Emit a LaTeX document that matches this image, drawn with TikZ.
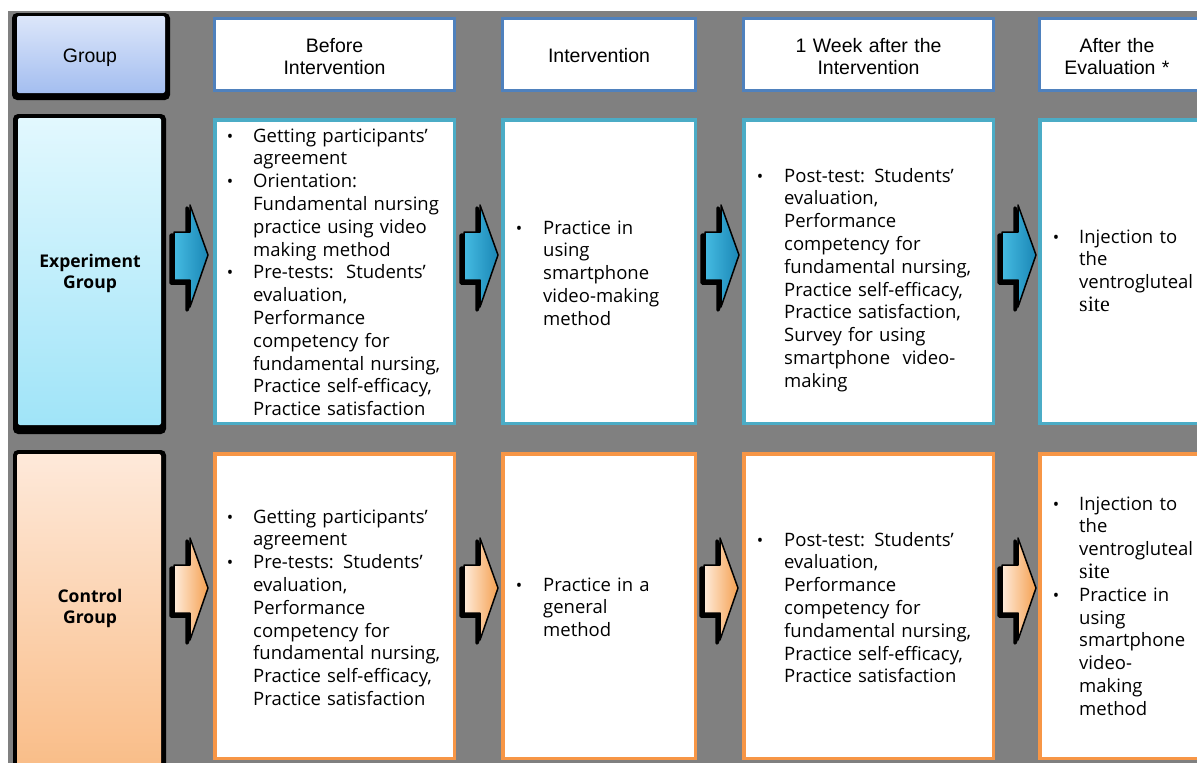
\documentclass[tikz,border=0pt]{standalone}
\usepackage{fontspec}
\setmainfont{Open Sans}
\newfontfamily\hdfont{Liberation Sans}
\newfontfamily\serfont{Liberation Serif}
\definecolor{bggray}{HTML}{808080}
\definecolor{hblue}{HTML}{4F81BD}
\definecolor{eteal}{HTML}{4BACC6}
\definecolor{corange}{HTML}{F79646}
\definecolor{gtop}{HTML}{DCE6FA}
\definecolor{gbot}{HTML}{A4BEF0}
\definecolor{etop}{HTML}{E2F8FE}
\definecolor{ebot}{HTML}{A0E4F8}
\definecolor{ctop}{HTML}{FEE9DA}
\definecolor{cbot}{HTML}{F9BC86}
\definecolor{aBl}{HTML}{45BBE2}
\definecolor{aBr}{HTML}{1A86B5}
\definecolor{aOl}{HTML}{FEEBDA}
\definecolor{aOr}{HTML}{F5A050}
\newcommand\blockarrow[4]{%
  \begin{scope}[shift={(#1,#2)}]
    \fill[black, draw=black, line width=3.5pt, line join=round, shift={(-3,3)}]
      (-34,-23) -- (-18,-23) -- (-18,-50) -- (0,0) -- (-18,52) -- (-18,25) -- (-34,25) -- cycle;
    \shade[left color=#3, right color=#4, draw=black, line width=1.5pt, line join=round]
      (-34,-23) -- (-18,-23) -- (-18,-50) -- (0,0) -- (-18,52) -- (-18,25) -- (-34,25) -- cycle;
  \end{scope}}
\newcommand\sitetext{{\serfont\fontsize{22}{22.8}\selectfont site}}
\begin{document}
\begin{tikzpicture}[x=1pt,y=-1pt,
  hbox/.style={draw=hblue, line width=3pt, fill=white, inner sep=0pt, outer sep=0pt, minimum height=72pt},
  ebox/.style={draw=eteal, line width=3.5pt, fill=white, inner sep=0pt, outer sep=0pt, minimum height=303.5pt},
  cbox/.style={draw=corange, line width=3.5pt, fill=white, inner sep=0pt, outer sep=0pt, minimum height=304.5pt},
  htxt/.style={font=\hdfont\fontsize{19.5}{22}\selectfont, align=center, anchor=base, inner sep=0pt, text width=220pt},
  gtxt/.style={font=\bfseries\fontsize{17.5}{21}\selectfont, align=center, anchor=base, inner sep=0pt, text width=140pt},
  btxt/.style={font=\fontsize{18.5}{22.8}\selectfont, align=left, anchor=base west, inner sep=0pt, text width=230pt},
  bul/.style={font=\fontsize{17}{17}\selectfont, anchor=base, inner sep=0pt},
  shadowbox/.style={fill=black, rounded corners=5pt},
]
\useasboundingbox (0,0) rectangle (1197,763);
\clip (0,0) rectangle (1197,763);
\fill[white] (0,0) rectangle (1197,763);
\fill[bggray] (8,11) rectangle (1197,763);

% ---------- group column ----------
\fill[shadowbox] (12,13) rectangle (170,100);
\shade[top color=gtop, bottom color=gbot, rounded corners=2pt] (17,16) rectangle (165,93);
\node[htxt] (gh) at (90,62) {Group};

\fill[shadowbox] (13,114) rectangle (166,434);
\shade[top color=etop, bottom color=ebot, rounded corners=2pt] (18,118) rectangle (161,425);
\node[gtxt] (ge) at (90,267) {Experiment\\Group};

\fill[shadowbox] (13,450) rectangle (166,775);
\shade[top color=ctop, bottom color=cbot, rounded corners=2pt] (17,454) rectangle (161,775);
\node[gtxt] (gc) at (90,602) {Control\\Group};

% ---------- header boxes ----------
\node[hbox, minimum width=240pt] (h1) at (334.5,54.5) {};
\node[hbox, minimum width=193pt] (h2) at (599,54.5) {};
\node[hbox, minimum width=250pt] (h3) at (868.5,54.5) {};
\node[hbox, minimum width=174pt] (h4) at (1126.5,54.5) {};
\node[htxt] (th1) at (334.5,52) {Before\\Intervention};
\node[htxt] (th2) at (599,62) {Intervention};
\node[htxt] (th3) at (868.5,52) {1 Week after the\\Intervention};
\node[htxt] (th4) at (1117,52) {After the\\Evaluation *};

% ---------- experiment row ----------
\node[ebox, minimum width=239.5pt] (e1) at (334.5,271.5) {};
\node[ebox, minimum width=192.5pt] (e2) at (599,271.5) {};
\node[ebox, minimum width=249.5pt] (e3) at (868.5,271.5) {};
\node[ebox, minimum width=173.5pt] (e4) at (1126.5,271.5) {};

\node[btxt] (te1) at (253,142) {Getting participants'\\agreement\\Orientation:\\Fundamental nursing\\practice using video\\making method\\Pre-tests:\ \ Students'\\evaluation,\\Performance\\competency for\\fundamental nursing,\\Practice self-efficacy,\\Practice satisfaction};
\node[bul] (be1a) at (230,142) {•};
\node[bul] (be1b) at (230,187.6) {•};
\node[bul] (be1c) at (230,278.8) {•};

\node[btxt] (te2) at (543,234) {Practice in\\using\\smartphone\\video-making\\method};
\node[bul] (be2) at (519,234) {•};

\node[btxt] (te3) at (784,182) {Post-test: Students'\\evaluation,\\Performance\\competency for\\fundamental nursing,\\Practice self-efficacy,\\Practice satisfaction,\\Survey for using\\smartphone\ \ video-\\making};
\node[bul] (be3) at (760,182) {•};

\node[btxt] (te4) at (1079,243) {Injection to\\the\\ventrogluteal\\\sitetext};
\node[bul] (be4) at (1056,243) {•};

% ---------- control row ----------
\node[cbox, minimum width=239.5pt] (c1) at (334.5,606) {};
\node[cbox, minimum width=192.5pt] (c2) at (599,606) {};
\node[cbox, minimum width=249.5pt] (c3) at (868.5,606) {};
\node[cbox, minimum width=173.5pt] (c4) at (1126.5,606) {};

\node[btxt] (tc1) at (253,523) {Getting participants'\\agreement\\Pre-tests: Students'\\evaluation,\\Performance\\competency for\\fundamental nursing,\\Practice self-efficacy,\\Practice satisfaction};
\node[bul] (bc1a) at (230,523) {•};
\node[bul] (bc1b) at (230,568.6) {•};

\node[btxt] (tc2) at (543,591) {Practice in a\\general\\method};
\node[bul] (bc2) at (519,591) {•};

\node[btxt] (tc3) at (784,546) {Post-test: Students'\\evaluation,\\Performance\\competency for\\fundamental nursing,\\Practice self-efficacy,\\Practice satisfaction};
\node[bul] (bc3) at (760,546) {•};

\node[btxt] (tc4) at (1079,510) {Injection to\\the\\ventrogluteal\\\sitetext\\Practice in\\using\\smartphone\\video-\\making\\method};
\node[bul] (bc4a) at (1056,510) {•};
\node[bul] (bc4b) at (1056,601.2) {•};

% ---------- block arrows ----------
\blockarrow{208}{255}{aBl}{aBr}
\blockarrow{498}{255}{aBl}{aBr}
\blockarrow{739}{255}{aBl}{aBr}
\blockarrow{1036}{255}{aBl}{aBr}
\blockarrow{208}{588}{aOl}{aOr}
\blockarrow{498}{588}{aOl}{aOr}
\blockarrow{738}{588}{aOl}{aOr}
\blockarrow{1036}{588}{aOl}{aOr}
\end{tikzpicture}
\end{document}
